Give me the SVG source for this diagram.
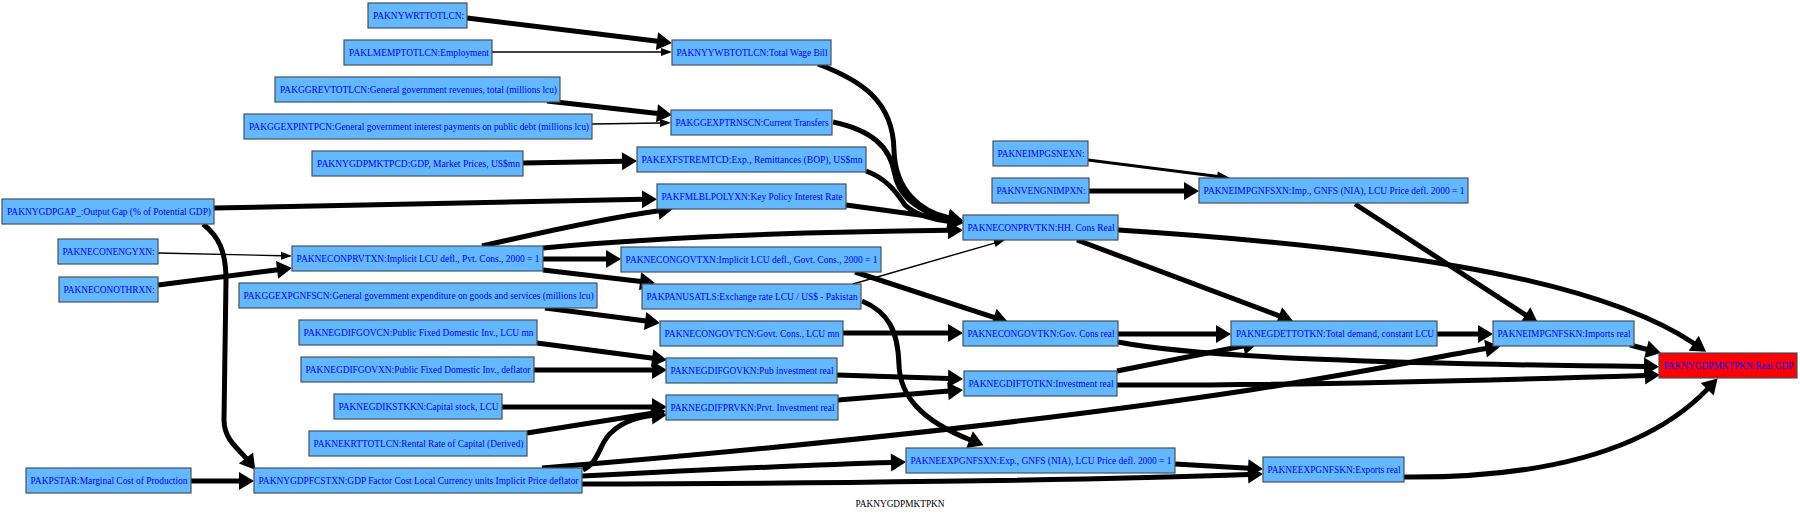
<svg xmlns="http://www.w3.org/2000/svg" width="1800" height="513" viewBox="0 0 1800 513">
<style>
.n rect{fill:#63b8ff;stroke:#46505a;stroke-width:1.2}
.n rect.red{fill:#ff0000}
.n text{font-family:"Liberation Serif",serif;font-size:10px;fill:#0000ff;text-anchor:middle}
.e path{fill:none;stroke:#000}
.e .t{stroke-width:5;marker-end:url(#ah)}
.e .s{stroke-width:1.4;marker-end:url(#as)}
.e .m{stroke-width:3;marker-end:url(#am)}
.title{font-family:"Liberation Serif",serif;font-size:10px;fill:#000;text-anchor:middle}
</style>
<defs>
<marker id="ah" markerUnits="userSpaceOnUse" markerWidth="16" markerHeight="18" refX="1" refY="9" orient="auto" overflow="visible"><path d="M0,0 L15,9 L0,18 Z" fill="#000"/></marker>
<marker id="as" markerUnits="userSpaceOnUse" markerWidth="12" markerHeight="8" refX="1" refY="4" orient="auto" overflow="visible"><path d="M0,0 L11,4 L0,8 Z" fill="#000"/></marker>
<marker id="am" markerUnits="userSpaceOnUse" markerWidth="14" markerHeight="10" refX="1" refY="5" orient="auto" overflow="visible"><path d="M0,0 L13,5 L0,10 Z" fill="#000"/></marker>
</defs>
<rect width="1800" height="513" fill="#fff"/>
<g id="edges" class="e">
<path class="t" d="M467,18 L658,41.3"/>
<path class="s" d="M492,52 L662,52"/>
<path class="t" d="M547,101 L658,113.4"/>
<path class="s" d="M592,124 L661,123"/>
<path class="t" d="M523,163 L623,161.2"/>
<path class="t" d="M214,208 C400,203 550,200 643,199.3"/>
<path class="t" d="M203,224 C218,236 226,250 226,280 L224,420 C224,440 239,449 246.6,458.8"/>
<path class="s" d="M158,253 L282,255.7"/>
<path class="t" d="M158,285 L278.1,269.8"/>
<path class="t" d="M191,481 L240,481"/>
<path class="t" d="M482,246 C560,228 620,216 659.3,210.7"/>
<path class="t" d="M543,248 C650,238 800,232 949,230.3"/>
<path class="t" d="M543,259 L607,259"/>
<path class="t" d="M543,270 L641.1,281.4"/>
<path class="t" d="M545,308 L646.1,321.1"/>
<path class="t" d="M537,343 L653.1,358.2"/>
<path class="t" d="M534,370 L653,370"/>
<path class="t" d="M502,407 L653,407"/>
<path class="t" d="M527,433 L652.2,413.2"/>
<path class="t" d="M583,470 C600,462 600,440 612,432 C622,422 640,416 653,415.4"/>
<path class="t" d="M542,468 C700,455 1000,428 1250,390 C1380,370 1450,354 1486.5,348.5"/>
<path class="t" d="M582,476 C700,470 800,465 892,462.5"/>
<path class="t" d="M582,484 C800,484 1100,480 1249,474.5"/>
<path class="t" d="M1175,464 L1249,468.3"/>
<path class="t" d="M1404,477 C1520,478 1640,460 1707.9,388.6"/>
<path class="t" d="M1630,345 L1647.4,349.5"/>
<path class="t" d="M1437,334 L1479,334"/>
<path class="t" d="M1355,204 L1526.3,315.4"/>
<path class="t" d="M1118,230 C1400,248 1600,280 1694.5,343.8"/>
<path class="t" d="M1077,240 L1279.9,316.1"/>
<path class="t" d="M1118,334 L1217,334"/>
<path class="t" d="M1118,342 C1200,358 1400,364 1645,366.5"/>
<path class="t" d="M1117,371 L1244.3,345.7"/>
<path class="t" d="M1117,385 C1300,386 1500,380 1646,375.5"/>
<path class="t" d="M843,333 L949,333"/>
<path class="t" d="M837,375 L949,378.6"/>
<path class="t" d="M838,400 L949,391.1"/>
<path class="t" d="M855,272 L994.7,317.6"/>
<path class="s" d="M853,284 L995.4,242.8"/>
<path class="t" d="M862,301 C888,312 898,330 899,365 C900,395 920,420 970.5,440"/>
<path class="t" d="M818,64 C860,80 893,100 894,150 C895,190 920,212 949.5,218"/>
<path class="t" d="M833,122 C870,130 890,145 895,175 C900,200 925,214 949.5,219.5"/>
<path class="t" d="M866,171 C885,178 895,190 905,205 C915,215 935,220 949.5,221.5"/>
<path class="t" d="M846,205 L949.1,219.1"/>
<path class="m" d="M1088,160 L1218.1,176.5"/>
<path class="t" d="M1089,191 L1185,191"/>
</g>
<g id="PAKNYWRTTOTLCN" class="n"><rect x="368" y="3" width="99" height="25"/><text x="418.5" y="19" textLength="91" lengthAdjust="spacingAndGlyphs">PAKNYWRTTOTLCN:</text></g>
<g id="PAKLMEMPTOTLCN" class="n"><rect x="344" y="40" width="148" height="25"/><text x="419" y="56" textLength="140" lengthAdjust="spacingAndGlyphs">PAKLMEMPTOTLCN:Employment</text></g>
<g id="PAKGGREVTOTLCN" class="n"><rect x="275" y="77" width="285" height="25"/><text x="418.5" y="93" textLength="277" lengthAdjust="spacingAndGlyphs">PAKGGREVTOTLCN:General government revenues, total (millions lcu)</text></g>
<g id="PAKGGEXPINTPCN" class="n"><rect x="244" y="114" width="348" height="25"/><text x="419" y="130" textLength="340" lengthAdjust="spacingAndGlyphs">PAKGGEXPINTPCN:General government interest payments on public debt (millions lcu)</text></g>
<g id="PAKNYGDPMKTPCD" class="n"><rect x="312" y="151" width="211" height="25"/><text x="418.5" y="167" textLength="203" lengthAdjust="spacingAndGlyphs">PAKNYGDPMKTPCD:GDP, Market Prices, US$mn</text></g>
<g id="PAKNYGDPGAP_" class="n"><rect x="2" y="199" width="212" height="25"/><text x="109" y="215" textLength="204" lengthAdjust="spacingAndGlyphs">PAKNYGDPGAP_:Output Gap (% of Potential GDP)</text></g>
<g id="PAKNECONENGYXN" class="n"><rect x="58" y="239" width="100" height="25"/><text x="108.5" y="255" textLength="92" lengthAdjust="spacingAndGlyphs">PAKNECONENGYXN:</text></g>
<g id="PAKNECONPRVTXN" class="n"><rect x="292" y="246" width="251" height="25"/><text x="418" y="262" textLength="243" lengthAdjust="spacingAndGlyphs">PAKNECONPRVTXN:Implicit LCU defl., Pvt. Cons., 2000 = 1</text></g>
<g id="PAKNECONOTHRXN" class="n"><rect x="59" y="277" width="99" height="25"/><text x="109" y="293" textLength="91" lengthAdjust="spacingAndGlyphs">PAKNECONOTHRXN:</text></g>
<g id="PAKGGEXPGNFSCN" class="n"><rect x="239" y="283" width="358" height="25"/><text x="418.5" y="299" textLength="350" lengthAdjust="spacingAndGlyphs">PAKGGEXPGNFSCN:General government expenditure on goods and services (millions lcu)</text></g>
<g id="PAKNEGDIFGOVCN" class="n"><rect x="299" y="320" width="238" height="25"/><text x="418.5" y="336" textLength="230" lengthAdjust="spacingAndGlyphs">PAKNEGDIFGOVCN:Public Fixed Domestic Inv., LCU mn</text></g>
<g id="PAKNEGDIFGOVXN" class="n"><rect x="301" y="357" width="233" height="25"/><text x="418" y="373" textLength="225" lengthAdjust="spacingAndGlyphs">PAKNEGDIFGOVXN:Public Fixed Domestic Inv., deflator</text></g>
<g id="PAKNEGDIKSTKKN" class="n"><rect x="334" y="394" width="168" height="25"/><text x="418.5" y="410" textLength="160" lengthAdjust="spacingAndGlyphs">PAKNEGDIKSTKKN:Capital stock, LCU</text></g>
<g id="PAKNEKRTTOTLCN" class="n"><rect x="309" y="431" width="218" height="25"/><text x="418.5" y="447" textLength="210" lengthAdjust="spacingAndGlyphs">PAKNEKRTTOTLCN:Rental Rate of Capital (Derived)</text></g>
<g id="PAKPSTAR" class="n"><rect x="26" y="468" width="165" height="25"/><text x="109" y="484" textLength="157" lengthAdjust="spacingAndGlyphs">PAKPSTAR:Marginal Cost of Production</text></g>
<g id="PAKNYGDPFCSTXN" class="n"><rect x="254" y="468" width="328" height="25"/><text x="418.5" y="484" textLength="320" lengthAdjust="spacingAndGlyphs">PAKNYGDPFCSTXN:GDP Factor Cost Local Currency units Implicit Price deflator</text></g>
<g id="PAKNYYWBTOTLCN" class="n"><rect x="672" y="40" width="159" height="25"/><text x="752" y="56" textLength="151" lengthAdjust="spacingAndGlyphs">PAKNYYWBTOTLCN:Total Wage Bill</text></g>
<g id="PAKGGEXPTRNSCN" class="n"><rect x="671" y="110" width="161" height="25"/><text x="752" y="126" textLength="153" lengthAdjust="spacingAndGlyphs">PAKGGEXPTRNSCN:Current Transfers</text></g>
<g id="PAKEXFSTREMTCD" class="n"><rect x="637" y="147" width="229" height="25"/><text x="752" y="163" textLength="221" lengthAdjust="spacingAndGlyphs">PAKEXFSTREMTCD:Exp., Remittances (BOP), US$mn</text></g>
<g id="PAKFMLBLPOLYXN" class="n"><rect x="657" y="184" width="189" height="25"/><text x="752" y="200" textLength="181" lengthAdjust="spacingAndGlyphs">PAKFMLBLPOLYXN:Key Policy Interest Rate</text></g>
<g id="PAKNECONGOVTXN" class="n"><rect x="621" y="247" width="260" height="25"/><text x="751.5" y="263" textLength="252" lengthAdjust="spacingAndGlyphs">PAKNECONGOVTXN:Implicit LCU defl., Govt. Cons., 2000 = 1</text></g>
<g id="PAKPANUSATLS" class="n"><rect x="642" y="284" width="219" height="25"/><text x="752" y="300" textLength="211" lengthAdjust="spacingAndGlyphs">PAKPANUSATLS:Exchange rate LCU / US$ - Pakistan</text></g>
<g id="PAKNECONGOVTCN" class="n"><rect x="660" y="321" width="183" height="25"/><text x="752" y="337" textLength="175" lengthAdjust="spacingAndGlyphs">PAKNECONGOVTCN:Govt. Cons., LCU mn</text></g>
<g id="PAKNEGDIFGOVKN" class="n"><rect x="666" y="358" width="171" height="25"/><text x="752" y="374" textLength="163" lengthAdjust="spacingAndGlyphs">PAKNEGDIFGOVKN:Pub investment real</text></g>
<g id="PAKNEGDIFPRVKN" class="n"><rect x="666" y="395" width="172" height="25"/><text x="752.5" y="411" textLength="164" lengthAdjust="spacingAndGlyphs">PAKNEGDIFPRVKN:Prvt. Investment real</text></g>
<g id="PAKNEIMPGSNEXN" class="n"><rect x="993" y="141" width="95" height="25"/><text x="1041" y="157" textLength="87" lengthAdjust="spacingAndGlyphs">PAKNEIMPGSNEXN:</text></g>
<g id="PAKNVENGNIMPXN" class="n"><rect x="992" y="178" width="97" height="25"/><text x="1041" y="194" textLength="89" lengthAdjust="spacingAndGlyphs">PAKNVENGNIMPXN:</text></g>
<g id="PAKNEIMPGNFSXN" class="n"><rect x="1199" y="178" width="269" height="25"/><text x="1334" y="194" textLength="261" lengthAdjust="spacingAndGlyphs">PAKNEIMPGNFSXN:Imp., GNFS (NIA), LCU Price defl. 2000 = 1</text></g>
<g id="PAKNECONPRVTKN" class="n"><rect x="963" y="215" width="155" height="25"/><text x="1041" y="231" textLength="147" lengthAdjust="spacingAndGlyphs">PAKNECONPRVTKN:HH. Cons Real</text></g>
<g id="PAKNECONGOVTKN" class="n"><rect x="963" y="321" width="155" height="25"/><text x="1041" y="337" textLength="147" lengthAdjust="spacingAndGlyphs">PAKNECONGOVTKN:Gov. Cons real</text></g>
<g id="PAKNEGDETTOTKN" class="n"><rect x="1231" y="321" width="206" height="25"/><text x="1335" y="337" textLength="198" lengthAdjust="spacingAndGlyphs">PAKNEGDETTOTKN:Total demand, constant LCU</text></g>
<g id="PAKNEGDIFTOTKN" class="n"><rect x="964" y="371" width="153" height="25"/><text x="1041" y="387" textLength="145" lengthAdjust="spacingAndGlyphs">PAKNEGDIFTOTKN:Investment real</text></g>
<g id="PAKNEEXPGNFSXN" class="n"><rect x="906" y="448" width="269" height="25"/><text x="1041" y="464" textLength="261" lengthAdjust="spacingAndGlyphs">PAKNEEXPGNFSXN:Exp., GNFS (NIA), LCU Price defl. 2000 = 1</text></g>
<g id="PAKNEEXPGNFSKN" class="n"><rect x="1263" y="457" width="141" height="25"/><text x="1334" y="473" textLength="133" lengthAdjust="spacingAndGlyphs">PAKNEEXPGNFSKN:Exports real</text></g>
<g id="PAKNEIMPGNFSKN" class="n"><rect x="1493" y="321" width="141" height="25"/><text x="1564" y="337" textLength="133" lengthAdjust="spacingAndGlyphs">PAKNEIMPGNFSKN:Imports real</text></g>
<g id="PAKNYGDPMKTPKN" class="n"><rect class="red" x="1659" y="353" width="138" height="25"/><text x="1728.5" y="369" textLength="130" lengthAdjust="spacingAndGlyphs">PAKNYGDPMKTPKN:Real GDP</text></g>
<text class="title" x="900" y="507" textLength="89" lengthAdjust="spacingAndGlyphs">PAKNYGDPMKTPKN</text>
</svg>
